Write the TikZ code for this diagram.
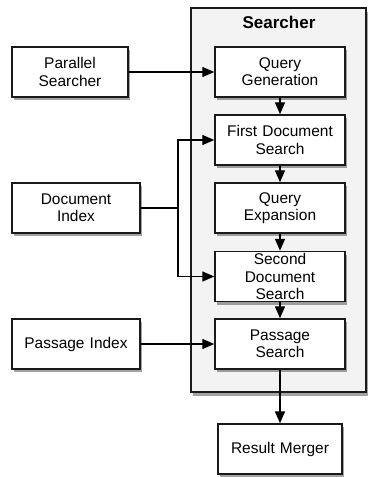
\documentclass[tikz,border=0pt]{standalone}
\usepackage{fontspec}
\setmainfont{Liberation Sans}
\usepackage{tikz}
\usetikzlibrary{arrows.meta,positioning,shadows}
\definecolor{Panel}{HTML}{F3F3F3}
\definecolor{Edge}{HTML}{1A1A1A}

\begin{document}
\begin{tikzpicture}[
  x=0.75pt, y=-0.75pt,
  box/.style={draw=Edge,line width=1.1pt,fill=white,align=center,inner sep=1pt,
    minimum height=37.5pt,text width=95pt,minimum width=97.5pt,
    font=\fontsize{11.6}{13}\selectfont,
    drop shadow={shadow xshift=1.5pt,shadow yshift=-2.5pt,opacity=0.45,fill=black!80}},
  frame/.style={draw=Edge,line width=1.1pt,fill=Panel,
    drop shadow={shadow xshift=1.5pt,shadow yshift=-3pt,opacity=0.45,fill=black!80}},
  title/.style={font=\fontsize{12.75}{14}\selectfont\bfseries},
  arr/.style={line width=1pt,-{Triangle[length=9pt,width=7.5pt]}}
]
\useasboundingbox (0,0) rectangle (368,477);
% searcher panel
\draw[frame] (191,8) rectangle (366,392);
\node[title] (stitle) at (279,22) {Searcher};
% boxes inside the panel
\node[box] (qg) at (280,72) {Query\\Generation};
\node[box] (fds) at (280,140) {First Document\\Search};
\node[box] (qe) at (280,208) {Query\\Expansion};
\node[box] (sds) at (280,276.5) {Second\\Document\\Search};
\node[box] (pss) at (280,344) {Passage\\Search};
% outside
\node[box,minimum width=87pt,text width=85pt] (par) at (70,72) {Parallel\\Searcher};
\node[box,minimum width=96pt,text width=94pt] (di) at (76,208) {Document\\Index};
\node[box,minimum width=96pt,text width=94pt] (pi) at (76,344) {Passage Index};
\node[box,minimum width=93pt,text width=91pt] (rm) at (280,449) {Result Merger};
\coordinate (split) at (178,208);
% connectors
\draw[arr] (par) -- (qg);
\draw[arr] (qg) -- (fds);
\draw[arr] (fds) -- (qe);
\draw[arr] (qe) -- (sds);
\draw[arr] (sds) -- (pss);
\draw[arr] (pss) -- (rm);
\draw[arr] (di.east) -- (split) |- (fds.west);
\draw[arr] (split) |- (sds.west);
\draw[arr] (pi) -- (pss);
\end{tikzpicture}
\end{document}
